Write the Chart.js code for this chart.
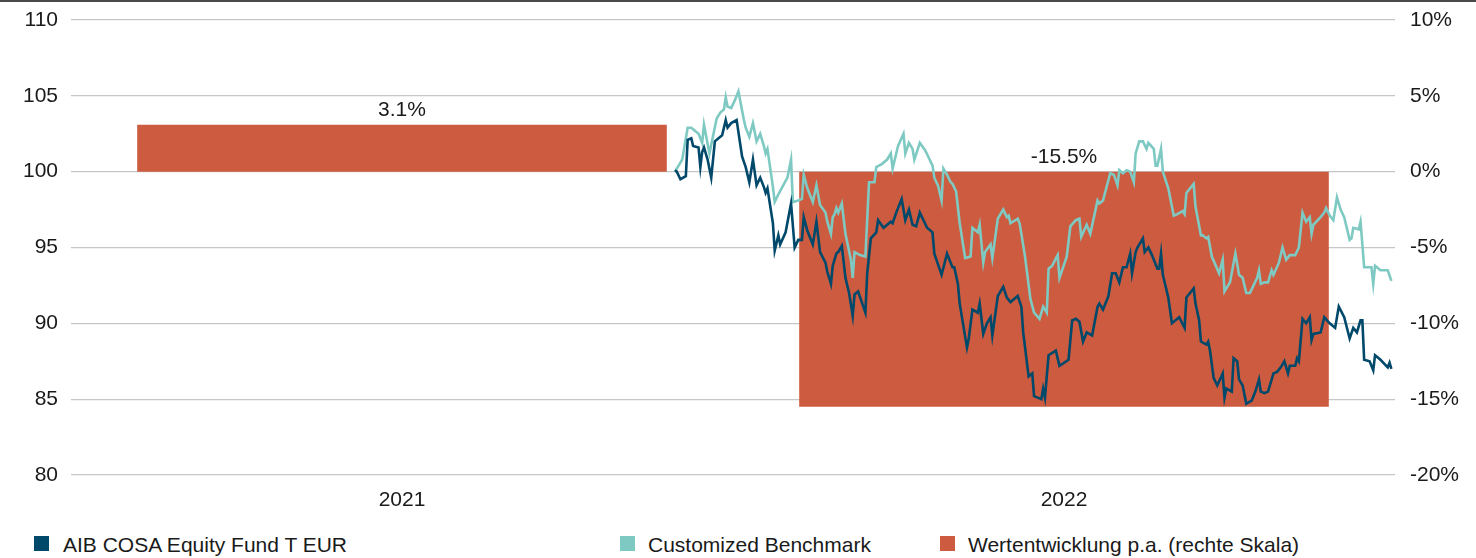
<!DOCTYPE html>
<html>
<head>
<meta charset="utf-8">
<script src="https://cdn.jsdelivr.net/npm/chart.js@4.4.1/dist/chart.umd.min.js"></script>
<style>
  html, body { margin: 0; padding: 0; background: #fff; }
  body { width: 1476px; height: 558px; position: relative; overflow: hidden; font-family: "Liberation Sans", Arial, sans-serif; }
  #topline { position: absolute; left: 0; top: 0; width: 1476px; height: 2px; background: #4a4a4a; }
  #wrap { position: absolute; left: 0; top: 0; width: 1476px; height: 520px; }
  .leg { position: absolute; top: 533px; height: 24px; font-size: 21px; color: #1a1a1a; white-space: nowrap; line-height: 24px; }
  .leg i { position: absolute; left: 0; top: 3px; width: 15px; height: 15px; }
  .leg span { position: absolute; top: 0; }
</style>
</head>
<body>
<div id="topline"></div>
<div id="wrap"><canvas id="c"></canvas></div>
<div id="legend"></div>
<script>
// ---- data ----
const categories = ["2021", "2022"];
const annualPerf = [3.1, -15.5];            // Wertentwicklung p.a. (%), right scale
const leftTicks = [80, 85, 90, 95, 100, 105, 110];
const rightTicks = [-20, -15, -10, -5, 0, 5, 10];
// time positions in days since 2021-01-01 (axis spans 2021-01-01 .. 2022-12-31)
const fundDays = [333,334,336,339,340,342,343,346,347,348,349,351,353,355,359,361,362,364,367,370,372,374,376,378,380,382,383,384,387,388,390,391,394,397,399,401,403,404,406,409,411,413,416,417,419,420,422,423,425,427,429,431,432,434,438,439,441,444,445,448,452,453,455,458,460,462,464,466,468,472,475,476,480,483,486,487,489,490,494,495,497,500,501,503,505,507,508,511,514,516,518,522,524,525,528,530,531,533,535,536,537,539,543,545,550,552,554,556,558,560,563,566,567,569,572,574,576,578,580,582,584,585,587,588,591,592,594,596,599,600,601,602,605,607,609,611,614,615,619,620,622,623,626,627,628,630,632,635,636,637,640,641,643,644,646,648,651,653,655,656,658,660,663,665,667,669,671,672,675,676,677,679,681,683,684,685,689,691,694,697,699,702,705,707,709,711,712,713,716,718,719,722,726,727,728];
const fundValues = [100.1,100,99.5,99.7,102.1,102.2,101.7,101.6,100.3,101.3,101.6,100.8,99.6,102,102.4,103.4,102.9,103.2,103.4,101,100.3,99.3,100.8,99.1,99.6,99,98.6,98.9,96.6,94.8,95.8,95.2,96,97.9,95,95.5,95.5,97,96.1,95.2,96.7,94.7,94,93.4,92.6,93.8,94.6,94.7,95.1,93,92,90.5,91.9,92.1,90.7,93.3,95.6,96,96.8,96.3,96.7,96.6,97.3,98.2,96.8,97.5,96.5,96.4,97.3,96.3,96,94.6,93.2,94.6,93.7,93.7,92.6,91.3,88.4,89,90.9,90.7,91.3,89.3,90,90.4,89.2,91.8,92.4,91.7,91.4,91.8,91.1,89.4,86.5,86.7,85.2,85.1,85,85.7,85.1,87.9,88.2,87.2,87.6,90.2,90.3,90.1,88.8,89.4,89.2,91.1,91.3,90.9,91.8,93.3,93.3,92.7,93.7,93.7,94.6,93.3,94.7,95,95.6,94.7,95,94.5,93.6,93.6,94.6,93.2,91.7,90,90.2,90.4,89.7,91.7,92.3,91.3,90.2,88.8,88.6,88.8,88.2,86.4,85.9,86.7,85.1,85.7,85.5,87.7,87.5,86.3,85.9,84.7,84.9,85.5,86.3,85.5,85.4,85.5,86.7,86.8,87.1,87.5,86.7,87.2,87.2,87.7,87.5,90.3,90,90.4,88.9,89.3,89.4,90.4,90,89.7,91.1,90.4,89,89.7,89.4,90.2,90.2,87.6,87.5,86.9,87.9,87.6,87.1,87.4,87];
const benchDays = [333,335,337,340,342,344,346,348,349,352,356,358,360,361,362,364,366,368,371,372,374,376,378,380,382,383,384,387,388,390,394,395,397,398,401,403,404,406,409,411,413,416,417,419,420,421,422,423,425,427,430,431,432,435,438,440,443,444,447,450,452,453,456,459,460,462,464,465,468,471,473,475,476,478,480,481,483,485,486,488,490,493,496,497,500,501,503,504,507,508,511,514,516,517,518,522,523,524,526,529,531,534,536,538,539,541,544,545,549,551,554,556,557,560,562,566,567,569,573,575,577,578,580,582,584,586,587,589,591,593,594,597,598,599,601,602,605,608,610,613,614,615,619,620,623,624,626,627,629,633,635,636,639,642,644,646,648,650,654,655,656,658,660,662,663,666,668,670,672,675,677,679,681,683,684,685,689,691,692,694,696,698,700,702,705,706,707,710,711,713,715,717,718,719,722,726,728];
const benchValues = [100,100.4,100.8,102.9,102.9,102.7,102.5,101.9,103.1,101.2,103.5,103.9,104.1,104.9,104.3,104.2,104.7,105.3,103.4,102.9,102.3,103.2,102,102.5,101.7,101.2,101.5,99,98,98.5,99.4,99.6,100.8,98,98.1,98.2,99.8,98.9,98,99.1,97.8,97.3,96.7,95.9,97,97.2,97.6,97.3,97.9,95.9,94.2,93,94.7,94.5,94.4,99.3,99.3,100.3,100.5,100.8,101.2,100.2,101.7,102.5,101.2,101.9,101.5,100.8,101.9,101.4,100.9,100.4,99.6,99.1,98.1,100.2,99.8,99.3,99.2,98.7,96.6,94.3,94.4,96.3,96,96.5,94,94.7,95.2,94.3,96.9,97.5,97,97.1,96.6,96.9,96.6,95.9,94.4,91.6,90.7,90.3,91.1,90.7,93.6,93.8,94.5,93,94.4,96.4,96.8,96.9,95.7,96.5,95.9,98.1,97.9,98.1,99.9,99.8,99.1,100.1,99.9,100.1,100,99.3,101.2,102,102,101.5,101.9,101.5,100.4,100.4,101.5,100,98.9,97.1,97.2,97.4,97.2,98.6,99.2,97.7,95.8,95.8,95.6,95.7,94.4,93.3,94.2,92.1,92.7,94.6,93.2,93,92,92,93,93.5,92.6,92.7,92.7,93.5,93.2,94,95,94.2,94.5,94.5,95,97.3,96.7,97,95.9,96.5,97,97.3,97.6,97.1,96.8,98.3,97.5,97,95.5,95.6,96.3,96.2,96.7,93.7,93.7,93.7,92.6,93.8,93.5,93.5,92.8];
const seriesNames = ["AIB COSA Equity Fund T EUR", "Customized Benchmark", "Wertentwicklung p.a. (rechte Skala)"];
const colors = { fund: "#00496b", bench: "#7ecac3", bar: "#cd5b3f", grid: "#c6c6c6", text: "#1a1a1a" };

const toXY = (days, vals) => days.map((d, i) => ({ x: d, y: vals[i] }));
const FONT = "'Liberation Sans', Arial, sans-serif";
const FS = 21;

const barLabels = {
  id: "barLabels",
  afterDatasetsDraw(chart) {
    const meta = chart.getDatasetMeta(2);
    const y2 = chart.scales.y2;
    const ctx = chart.ctx;
    ctx.save();
    ctx.font = FS + "px " + FONT;
    ctx.fillStyle = colors.text;
    ctx.textAlign = "center";
    ctx.textBaseline = "alphabetic";
    meta.data.forEach((bar, i) => {
      const v = annualPerf[i];
      const y = y2.getPixelForValue(Math.max(v, 0)) - 9;
      ctx.fillText(v.toFixed(1) + "%", bar.x, y);
    });
    ctx.restore();
  }
};

new Chart(document.getElementById("c"), {
  type: "bar",
  data: {
    labels: categories,
    datasets: [
      { type: "line", label: seriesNames[0], data: toXY(fundDays, fundValues), xAxisID: "xl", yAxisID: "y",
        borderColor: colors.fund, borderWidth: 2.6, pointRadius: 0, tension: 0, order: 0 },
      { type: "line", label: seriesNames[1], data: toXY(benchDays, benchValues), xAxisID: "xl", yAxisID: "y",
        borderColor: colors.bench, borderWidth: 2.6, pointRadius: 0, tension: 0, order: 1 },
      { type: "bar", label: seriesNames[2], data: annualPerf, xAxisID: "x", yAxisID: "y2", grouped: false,
        backgroundColor: colors.bar, barPercentage: 1, categoryPercentage: 0.8, order: 2 }
    ]
  },
  options: {
    responsive: true,
    maintainAspectRatio: false,
    animation: false,
    layout: { padding: { top: 20, left: 0, right: 0, bottom: 0 } },
    plugins: { legend: { display: false }, tooltip: { enabled: false } },
    scales: {
      x: {
        type: "category", position: "bottom", offset: true,
        grid: { display: false, drawTicks: false }, border: { display: false },
        ticks: { color: colors.text, font: { family: FONT, size: FS }, padding: 13 },
        afterFit: s => { s.height = 45; }
      },
      xl: { type: "linear", display: false, min: 0, max: 730, offset: false, grid: { offset: false } },
      y: {
        position: "left", min: 80, max: 110,
        afterBuildTicks: s => { s.ticks = leftTicks.map(v => ({ value: v })); },
        grid: { color: colors.grid, lineWidth: 1.2, drawTicks: false }, border: { display: false },
        ticks: { color: colors.text, font: { family: FONT, size: FS }, padding: 13 },
        afterFit: s => { s.width = 71; s.paddingTop = 0; s.paddingBottom = 0; }
      },
      y2: {
        position: "right", min: -20, max: 10,
        afterBuildTicks: s => { s.ticks = rightTicks.map(v => ({ value: v })); },
        grid: { display: false, drawTicks: false }, border: { display: false },
        ticks: { color: colors.text, font: { family: FONT, size: FS }, padding: 15, callback: v => v + "%" },
        afterFit: s => { s.width = 81; s.paddingTop = 0; s.paddingBottom = 0; }
      }
    }
  },
  plugins: [barLabels]
});

// legend (fixed column positions as in the reference)
const legendItems = [
  { name: seriesNames[0], color: colors.fund, left: 34 },
  { name: seriesNames[1], color: colors.bench, left: 620 },
  { name: seriesNames[2], color: colors.bar, left: 940 }
];
const lg = document.getElementById("legend");
legendItems.forEach(it => {
  const d = document.createElement("div");
  d.className = "leg";
  d.style.left = it.left + "px";
  d.innerHTML = '<i style="background:' + it.color + '"></i><span style="left:' + (it.left === 34 ? 29 : 28) + 'px">' + it.name + '</span>';
  lg.appendChild(d);
});
</script>
</body>
</html>
